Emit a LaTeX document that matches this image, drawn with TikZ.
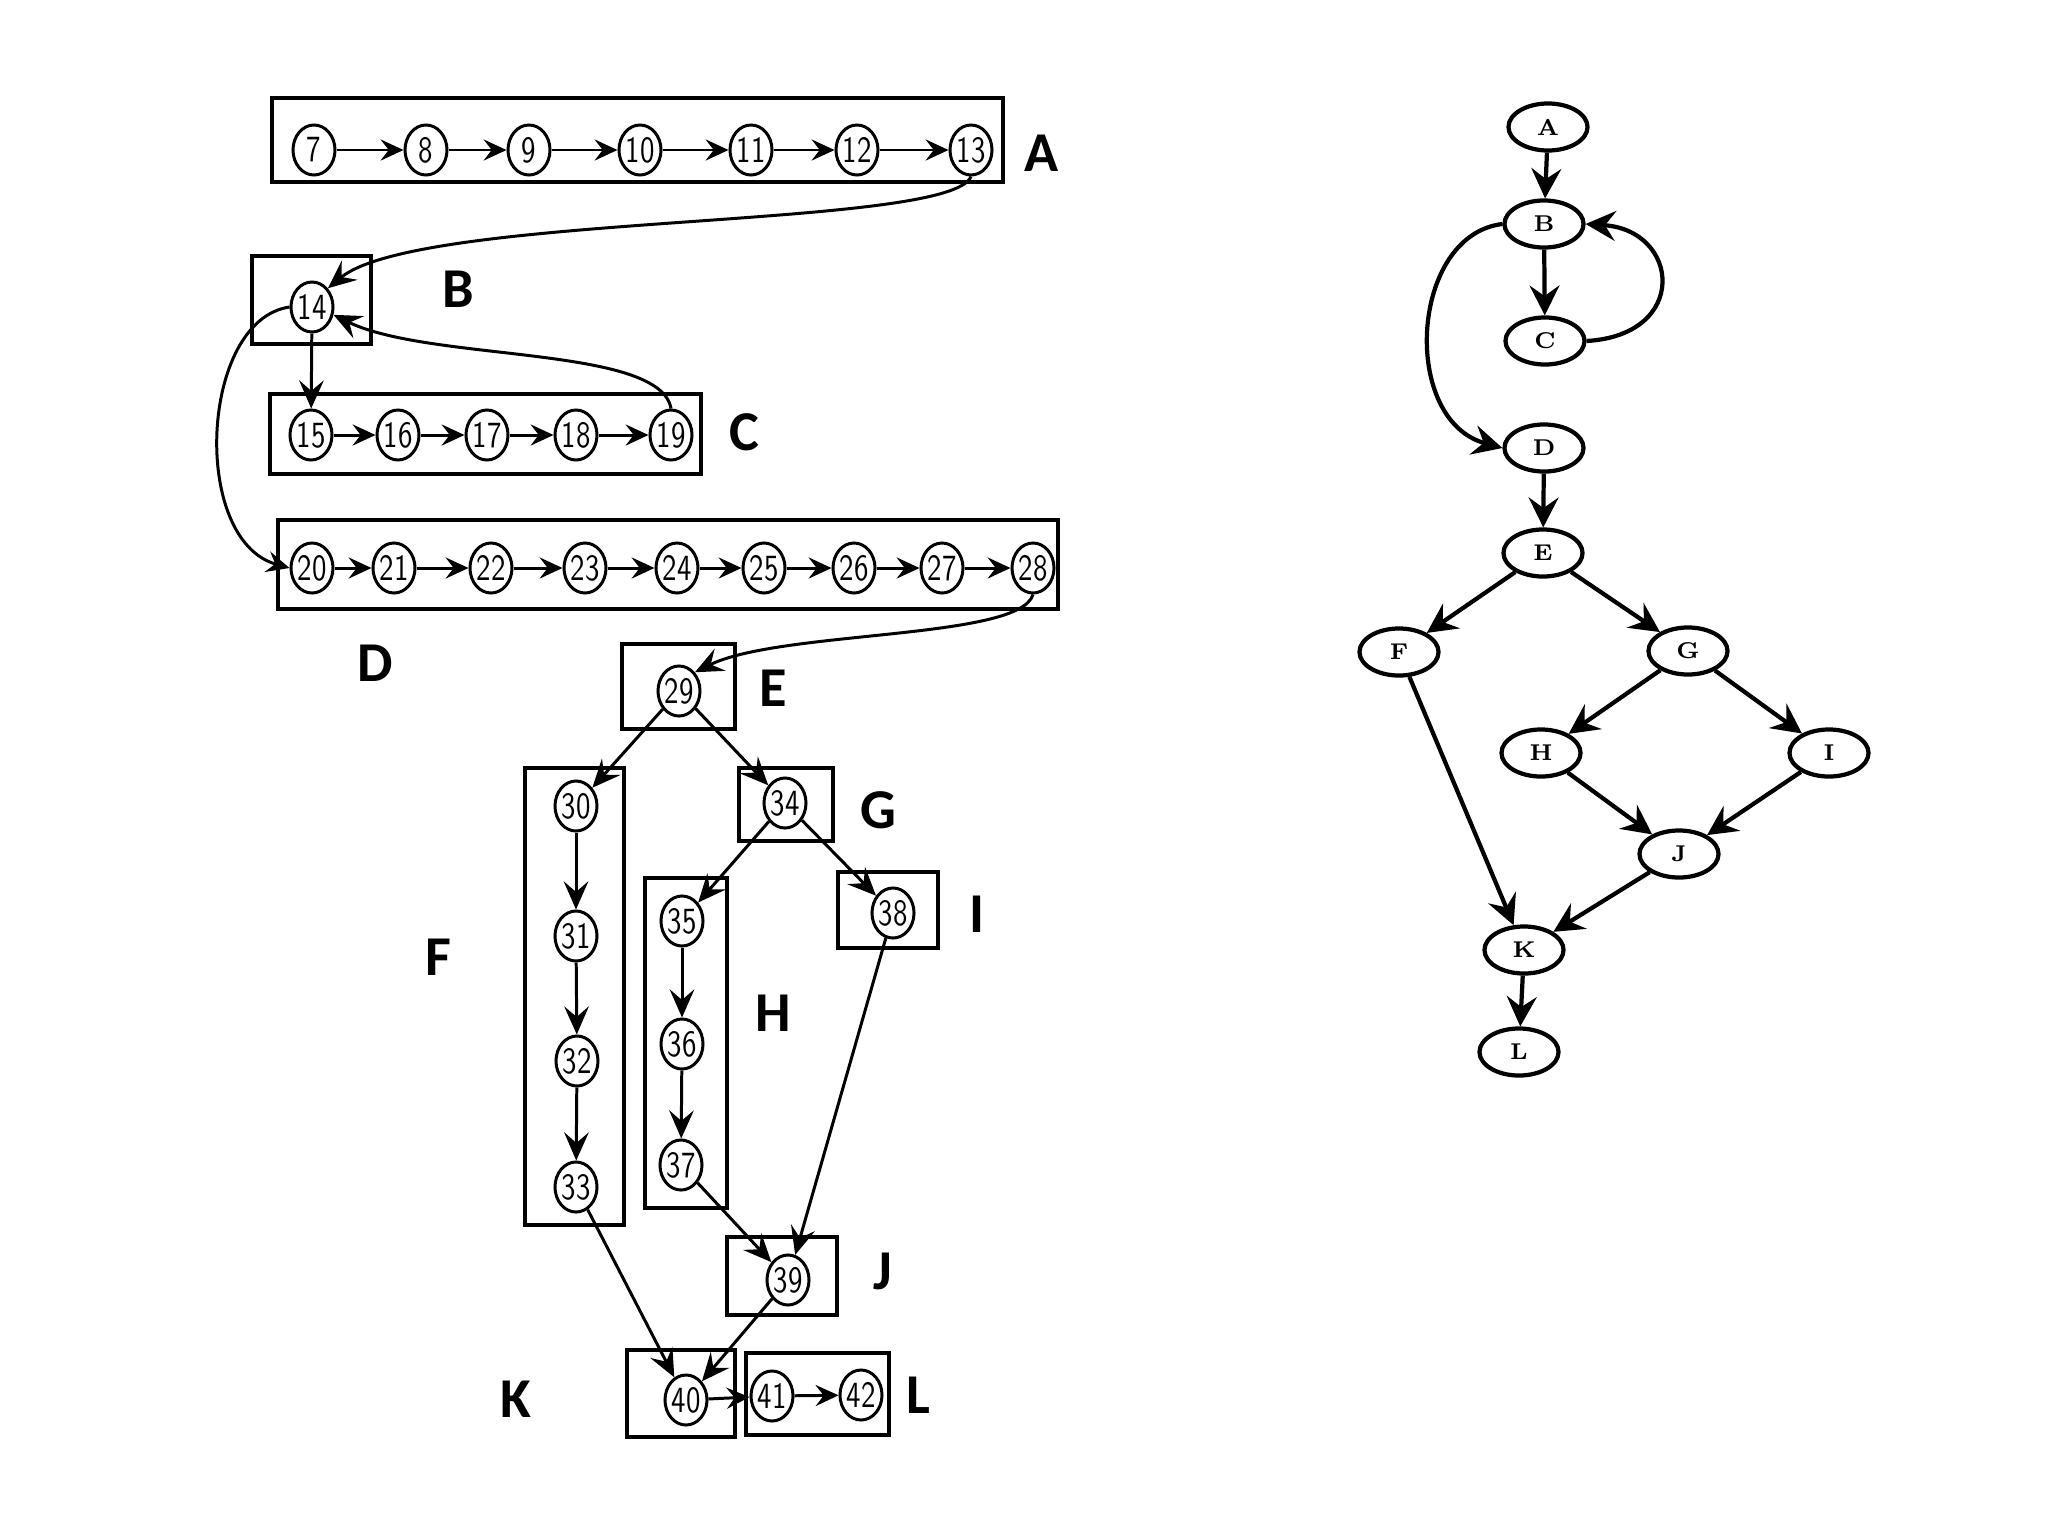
\documentclass[tikz,border=0pt]{standalone}
\usepackage{fontspec}
\usepackage{graphicx}
\newfontfamily\lblfont{Carlito}
\usetikzlibrary{arrows.meta,shapes.geometric}
\newcommand\nlab[1]{\scalebox{0.82}[1.05]{#1}}
\begin{document}
\begin{tikzpicture}[x=0.01cm,y=-0.01cm,
  num/.style={ellipse,draw,line width=0.85pt,minimum width=0.42cm,minimum height=0.5cm,inner sep=0pt,font=\sffamily\fontsize{10}{10}\selectfont},
  grp/.style={draw,line width=1.4pt},
  lbl/.style={font=\lblfont\bfseries\fontsize{16}{16}\selectfont},
  la/.style={line width=0.85pt,-{Stealth[length=6.5pt,width=6pt,inset=2.3pt]}},
  lv/.style={line width=0.85pt,-{Stealth[length=8pt,width=7pt,inset=3pt]}},
  rn/.style={ellipse,draw,line width=1.2pt,minimum width=0.79cm,minimum height=0.47cm,inner sep=0pt,font=\bfseries\fontsize{6.5}{6.5}\selectfont},
  ra/.style={line width=1.2pt,-{Stealth[length=8.5pt,width=8.5pt,inset=3pt]}}
]
\useasboundingbox (0,0) rectangle (2048,1536);
\fill[white] (0,0) rectangle (2048,1536);

% group boxes
\draw[grp] (272,98) rectangle (1003,182);
\draw[grp] (252,256) rectangle (371,344);
\draw[grp] (270,394) rectangle (701,474);
\draw[grp] (278,520) rectangle (1058,609);
\draw[grp] (622,644) rectangle (735,729);
\draw[grp] (525,768) rectangle (624,1225);
\draw[grp] (739,768) rectangle (833,841);
\draw[grp] (645,878) rectangle (727,1208);
\draw[grp] (838,872) rectangle (938,948);
\draw[grp] (727,1237) rectangle (837,1315);
\draw[grp] (627,1350) rectangle (735,1437);
\draw[grp] (746,1353) rectangle (889,1435);

% group labels
\node[lbl] (lA) at (1042,153) {A};
\node[lbl] (lB) at (458,289) {B};
\node[lbl] (lC) at (744,432) {C};
\node[lbl] (lD) at (375,663) {D};
\node[lbl] (lE) at (773,688) {E};
\node[lbl] (lF) at (438,957) {F};
\node[lbl] (lG) at (878,810) {G};
\node[lbl] (lH) at (773,1013) {H};
\node[lbl] (lI) at (977,914) {I};
\node[lbl] (lJ) at (883,1271) {J};
\node[lbl] (lK) at (516,1399) {K};
\node[lbl] (lL) at (918,1395) {L};

% numbered nodes
\foreach \n/\x/\y in {7/314/150,8/426/150,9/529/150,10/640/150,11/751/150,12/857/150,13/971/150,
  14/312/307,15/311/435,16/398/435,17/487/435,18/576/435,19/671/435,
  20/312/568,21/394/568,22/491/568,23/585/568,24/677/568,25/764/568,26/854/568,27/942/568,28/1033/568,
  29/679/691,30/576/806,31/576/936,32/577/1061,33/576/1187,34/785/803,35/682/921,36/682/1044,37/681/1165,
  38/893/913,39/788/1280,40/686/1400,41/772/1396,42/861/1395}
  \node[num] (n\n) at (\x,\y) {\nlab{\n}};

% straight arrows
\foreach \a/\b in {7/8,8/9,9/10,10/11,11/12,12/13,15/16,16/17,17/18,18/19,
  20/21,21/22,22/23,23/24,24/25,25/26,26/27,27/28,40/41,41/42}
  \draw[la] (n\a) -- (n\b);
\foreach \a/\b in {14/15,29/30,29/34,30/31,31/32,32/33,34/35,34/38,35/36,36/37,37/39,38/39,33/40,39/40}
  \draw[lv] (n\a) -- (n\b);

% curved arrows
\draw[lv] (n13.south) .. controls (950,230) and (420,212) .. (n14.north east);
\draw[lv] (n19.north) .. controls (660,345) and (430,362) .. (n14.-20);
\draw[la] (n14.west) .. controls (200,320) and (190,540) .. (n20.west);
\draw[lv] (n28.south) .. controls (1020,640) and (780,630) .. (n29.north east);

% right graph
\node[rn] (A) at (1548,127) {A};
\node[rn] (B) at (1544,224) {B};
\node[rn] (C) at (1545,341) {C};
\node[rn] (D) at (1544,448) {D};
\node[rn] (E) at (1543,553) {E};
\node[rn] (F) at (1399,652) {F};
\node[rn] (G) at (1688,651) {G};
\node[rn] (H) at (1541,753) {H};
\node[rn] (I) at (1829,753) {I};
\node[rn] (J) at (1679,854) {J};
\node[rn] (K) at (1524,950) {K};
\node[rn] (L) at (1519,1052) {L};

\foreach \a/\b in {A/B,B/C,D/E,E/F,E/G,F/K,G/H,G/I,H/J,I/J,J/K,K/L}
  \draw[ra] (\a) -- (\b);
\draw[ra] (C.east) .. controls (1690,335) and (1680,230) .. (B.east);
\draw[ra] (B.west) .. controls (1410,235) and (1400,420) .. (D.west);
\end{tikzpicture}
\end{document}
